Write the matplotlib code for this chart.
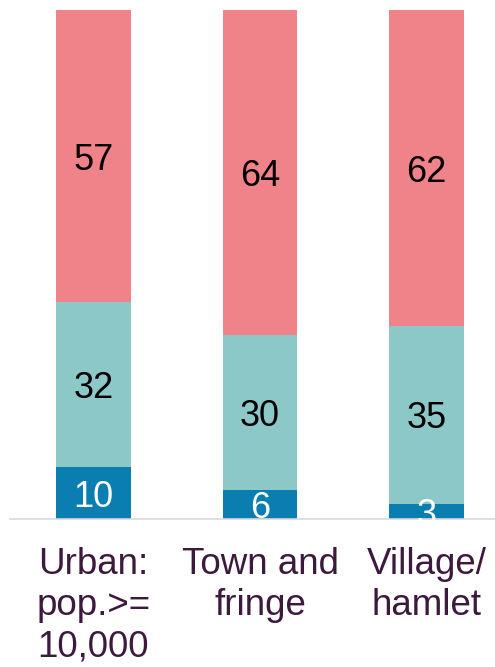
import matplotlib
matplotlib.use("Agg")
import matplotlib.pyplot as plt

categories = ["Urban:\npop.>=\n10,000", "Town and\nfringe", "Village/\nhamlet"]
series_names = ["Blue", "Teal", "Pink"]
blue = [10.2, 5.7, 3.0]
teal = [32.4, 30.4, 34.9]
pink = [57.4, 63.9, 62.1]

colors = ["#0A7DB1", "#8CC8C8", "#F08289"]
label_colors = ["white", "black", "black"]

plt.rcParams['font.family'] = ['Liberation Sans', 'DejaVu Sans']

fig = plt.figure(figsize=(4.95, 6.67), dpi=100)
ax = fig.add_axes([10.25 / 495, 148 / 667, (495 - 10.25) / 495, 509 / 667])

x = list(range(len(categories)))
bottom = [0.0] * len(categories)
for vals, col, lc in zip([blue, teal, pink], colors, label_colors):
    bars = ax.bar(x, vals, width=0.45, bottom=bottom, color=col, edgecolor='none')
    texts = ax.bar_label(bars, labels=[f"{v:.0f}" for v in vals], label_type='center',
                         color=lc, fontsize=26)
    for t in texts:
        t.set_clip_on(True)
        t.set_va('center_baseline')
    bottom = [b + v for b, v in zip(bottom, vals)]

ax.set_xlim(-0.5, (495 - 93.5) / 166.5)
ax.set_ylim(0, 100)
ax.set_xticks(x)
ax.set_xticklabels(categories, fontsize=26.5, color="#3D1A3D", linespacing=1.24)
ax.tick_params(axis='x', length=0, pad=20)
ax.set_yticks([])
for s in ['top', 'right', 'left']:
    ax.spines[s].set_visible(False)
ax.spines['bottom'].set_color('#D9D9D9')
ax.spines['bottom'].set_linewidth(1.2)

fig.savefig("out.png", dpi=100)
